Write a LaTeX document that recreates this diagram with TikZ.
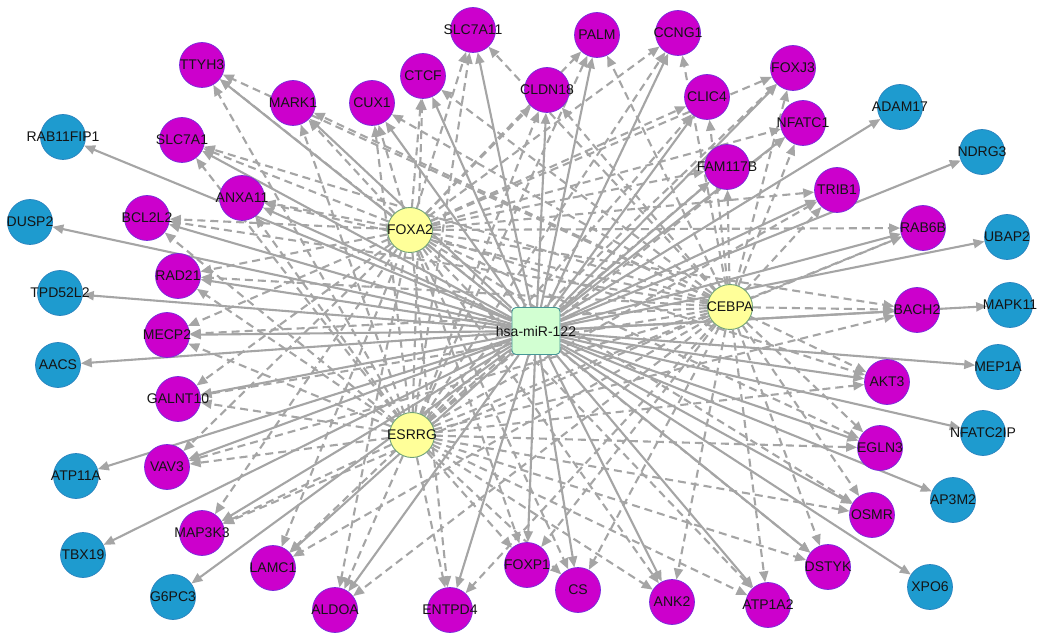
\documentclass[tikz,border=0pt]{standalone}
\usepackage{fontspec}
\setmainfont{Liberation Sans}
\usetikzlibrary{arrows.meta,backgrounds}
\definecolor{mag}{RGB}{204,0,204}
\definecolor{magb}{RGB}{120,40,220}
\definecolor{blu}{RGB}{30,155,207}
\definecolor{blub}{RGB}{40,130,190}
\definecolor{yel}{RGB}{255,255,153}
\definecolor{yelb}{RGB}{110,160,120}
\definecolor{grn}{RGB}{210,255,210}
\definecolor{grnb}{RGB}{70,150,150}
\definecolor{edg}{RGB}{165,165,165}
\definecolor{txt}{RGB}{20,20,20}
\tikzset{
  lab/.style={font=\fontsize{14}{15}\selectfont, text=txt, inner sep=0pt},
  magnode/.style={circle, minimum size=45pt, inner sep=0pt, fill=mag, draw=magb, line width=0.7pt},
  blunode/.style={circle, minimum size=45pt, inner sep=0pt, fill=blu, draw=blub, line width=0.7pt},
  tfnode/.style={circle, minimum size=45pt, inner sep=0pt, fill=yel, draw=yelb, line width=0.9pt},
  mirbox/.style={rectangle, rounded corners=4pt, minimum width=48pt, minimum height=47pt, inner sep=0pt, fill=grn, draw=grnb, line width=0.9pt},
  soledge/.style={draw=edg, line width=2.1pt, -{Triangle[length=11pt,width=9pt]}},
  dashedge/.style={draw=edg, line width=2.1pt, dash pattern=on 8pt off 5pt, -{Triangle[length=11pt,width=9pt]}}
}
\def\magnodes{TTYH3/202/65, MARK1/293/103, CUX1/372/103, CTCF/423/76, SLC7A11/473/30, CLDN18/547/90, PALM/597/35, CCNG1/678/33, CLIC4/707/97, FOXJ3/793/68, NFATC1/803/123, FAM117B/727/167, TRIB1/837/190, RAB6B/923/228, BACH2/917/310, AKT3/887/382, EGLN3/880/448, OSMR/872/515, DSTYK/828/567, ATP1A2/768/605, ANK2/672/602, CS/578/590, FOXP1/527/565, ENTPD4/450/610, ALDOA/335/610, LAMC1/273/568, MAP3K3/202/533, VAV3/167/467, GALNT10/178/399, MECP2/167/335, RAD21/178/276, BCL2L2/147/218, ANXA11/242/198, SLC7A1/182/140}
\def\blunodes{RAB11FIP1/63/137, DUSP2/30/222, TPD52L2/60/293, AACS/58/365, ATP11A/76/476, TBX19/83/555, G6PC3/173/597, XPO6/930/587, AP3M2/953/500, NFATC2IP/983/433, MEP1A/998/367, MAPK11/1010/305, UBAP2/1007/237, NDRG3/982/152, ADAM17/900/107}
\def\tfnodes{FOXA2/410/230, CEBPA/730/307, ESRRG/412/435}
\begin{document}
\begin{tikzpicture}[x=1pt,y=-1pt]
\useasboundingbox (0,0) rectangle (1063,644);
\node[mirbox, label={[lab]center:hsa-miR-122}] (mir) at (536,331) {};
\foreach \n/\x/\y in \tfnodes {
  \node[tfnode, label={[lab]center:\n}] (\n) at (\x,\y) {};
}
\foreach \n/\x/\y in \magnodes {
  \node[magnode, label={[lab]center:\n}] (\n) at (\x,\y) {};
}
\foreach \n/\x/\y in \blunodes {
  \node[blunode, label={[lab]center:\n}] (\n) at (\x,\y) {};
}
\begin{scope}[on background layer]
  \fill[white] (0,0) rectangle (1063,644);
  \foreach \t/\tx/\ty in \tfnodes {
    \foreach \n/\x/\y in \magnodes {
      \draw[dashedge] (\t) -- (\n);
    }
  }
  \foreach \n/\x/\y in \magnodes {
    \draw[soledge] (mir) -- (\n);
  }
  \foreach \n/\x/\y in \blunodes {
    \draw[soledge] (mir) -- (\n);
  }
\end{scope}
\end{tikzpicture}
\end{document}
